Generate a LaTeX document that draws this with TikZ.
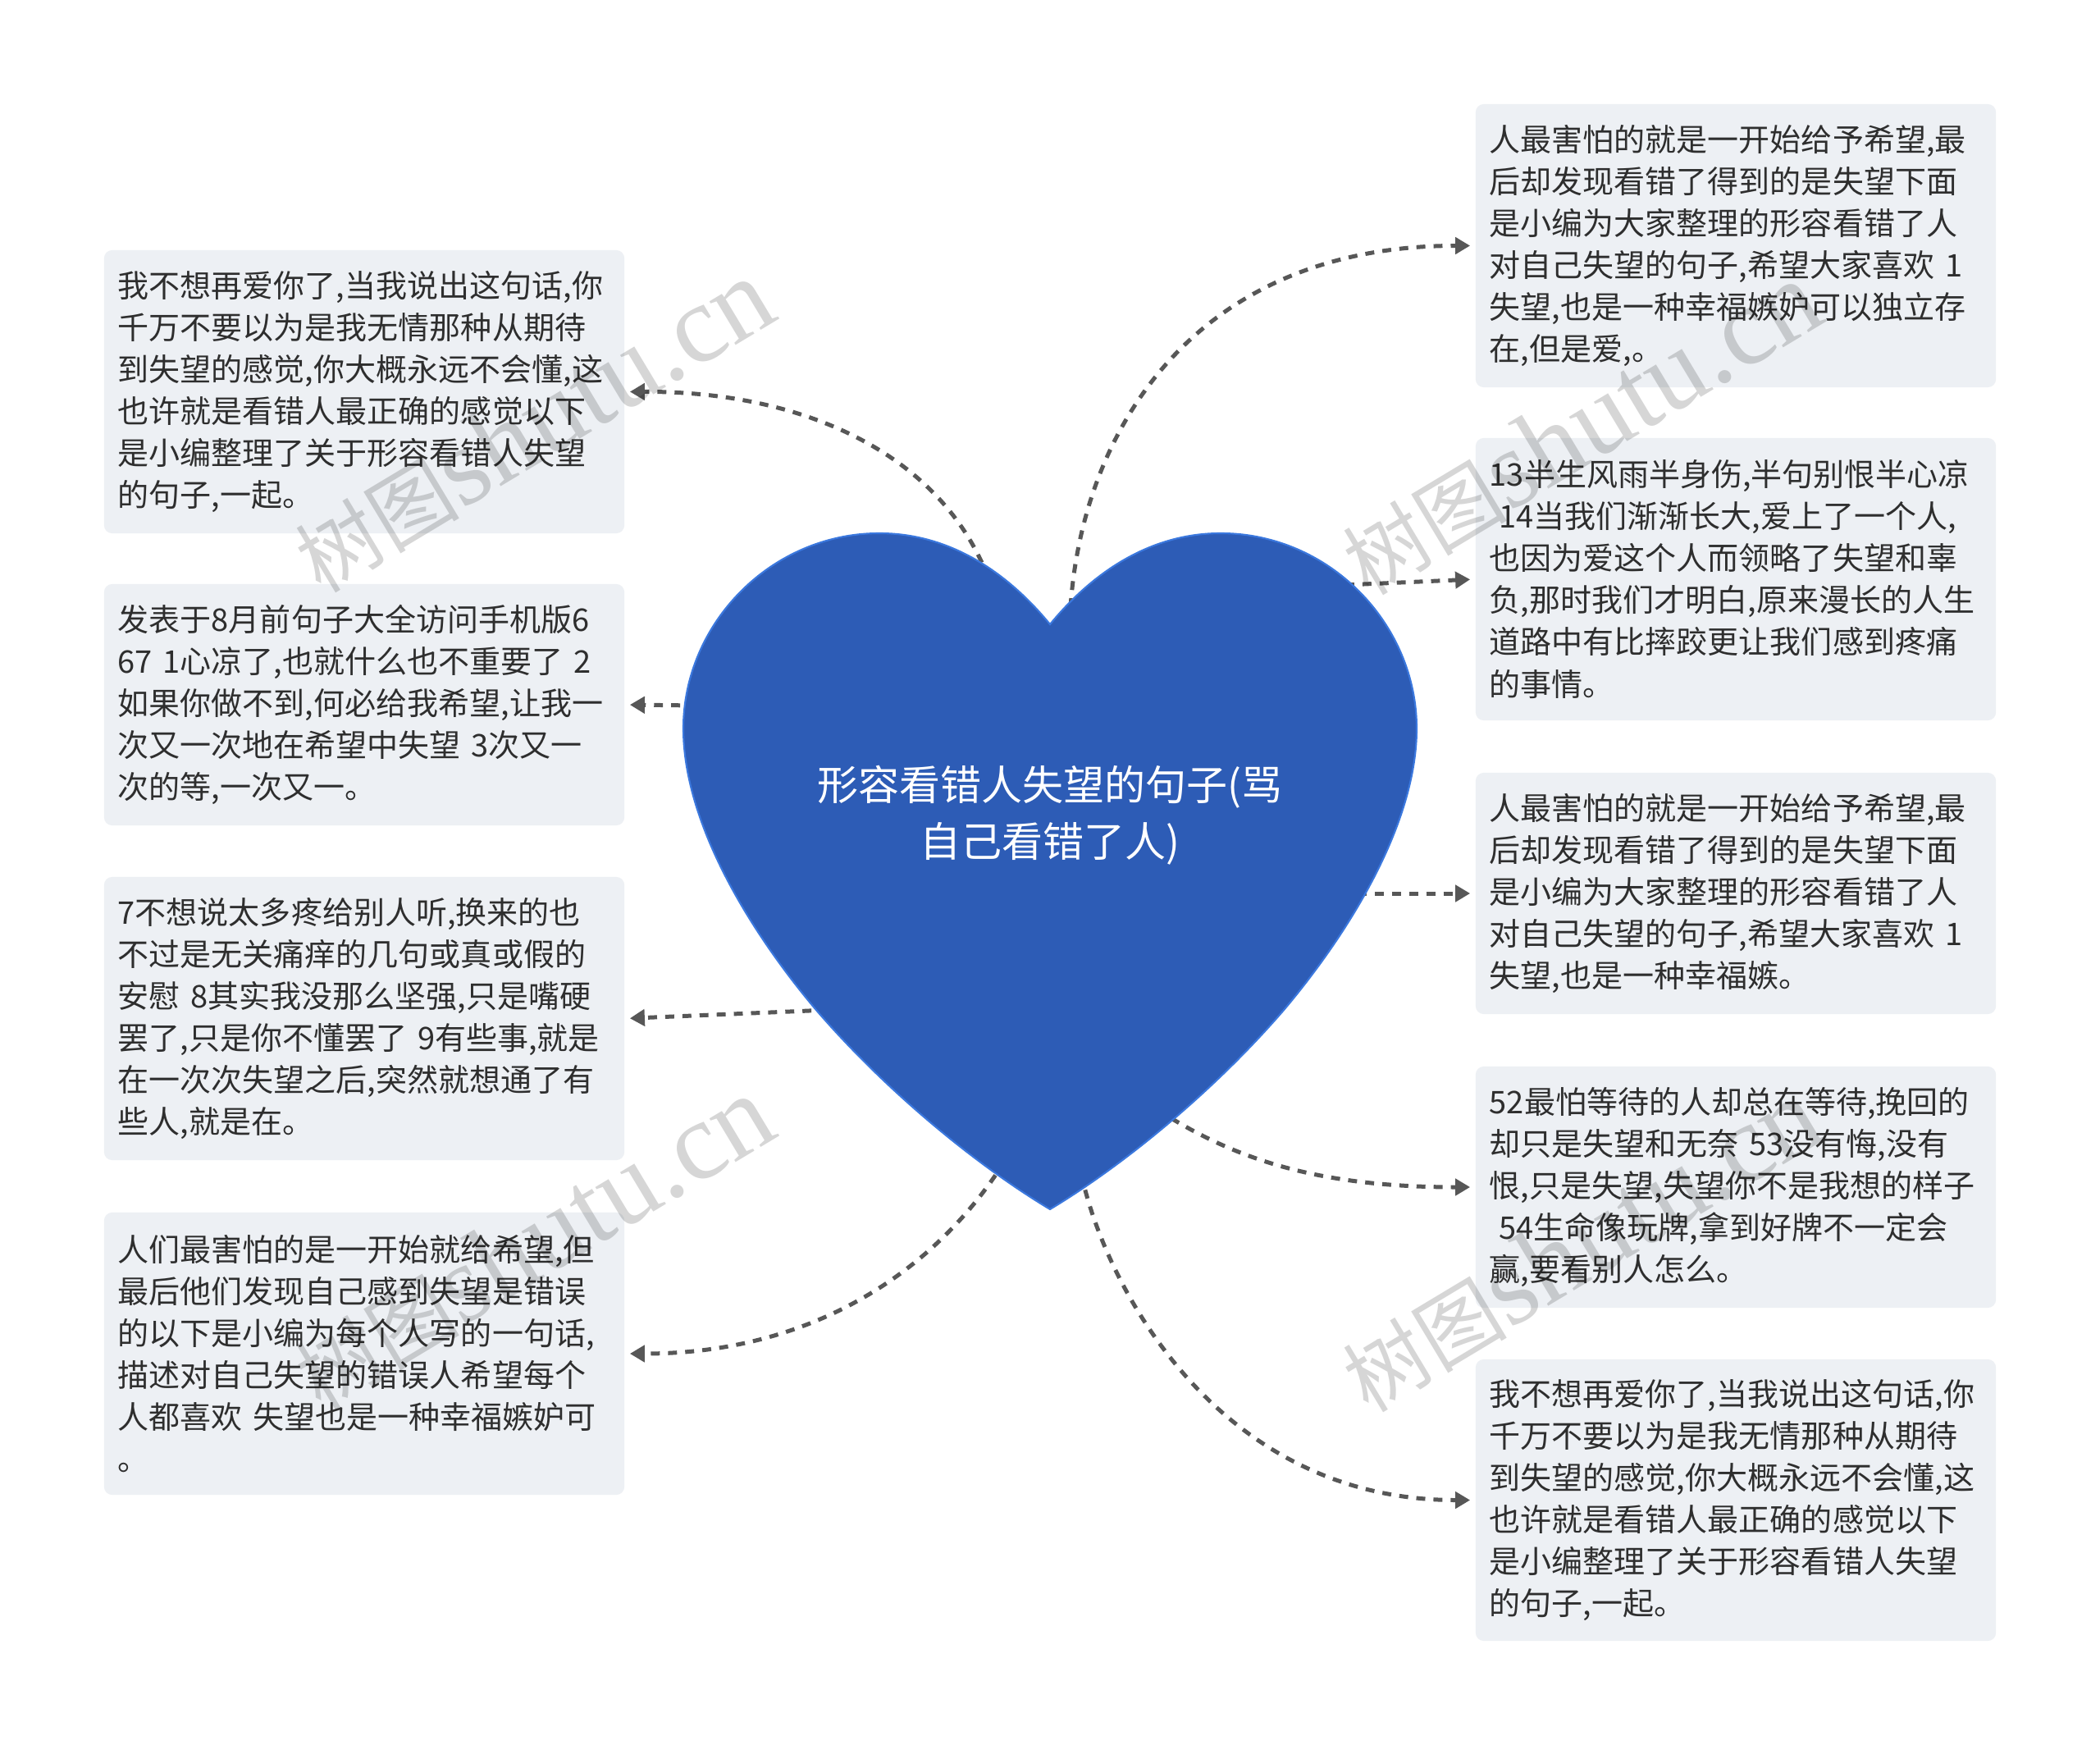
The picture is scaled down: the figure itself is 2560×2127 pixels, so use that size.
\documentclass[tikz,border=0pt]{standalone}
\usepackage{fontspec}
\setmainfont{Noto Sans CJK SC}
\newfontfamily\wmserif{Liberation Serif}
\usetikzlibrary{arrows.meta}
\definecolor{boxfill}{HTML}{EDF0F4}
\definecolor{txt}{HTML}{2E2E2E}
\definecolor{lnk}{HTML}{575757}
\definecolor{heartfill}{HTML}{2D5CB6}
\definecolor{heartline}{HTML}{3B78DE}
\begin{document}
\begin{tikzpicture}[x=0.01cm,y=-0.01cm,
  box/.style={fill=boxfill, rounded corners=0.1cm, text=txt, text width=6cm, align=left,
    inner xsep=0.17cm, inner ysep=0pt, minimum width=6.34cm,
    font=\fontsize{10.81pt}{14.51pt}\selectfont},
  link/.style={draw=lnk, line width=1.42pt, dash pattern=on 3.1pt off 2.85pt,
    -{Triangle[length=0.18cm,width=0.2cm]}, shorten >=0.06cm},
  wm/.style={rotate=31, text=black, opacity=0.16, inner sep=0pt}]
\fill[white] (0,0) rectangle (2560,2127);
\useasboundingbox (0,0) rectangle (2560,2127);

% boxes
\node[box, minimum height=3.45cm] (L1) at (444,477.5) {我不想再爱你了,当我说出这句话,你\\千万不要以为是我无情那种从期待\\到失望的感觉,你大概永远不会懂,这\\也许就是看错人最正确的感觉以下\\是小编整理了关于形容看错人失望\\的句子,一起。};
\node[box, minimum height=2.94cm] (L2) at (444,859) {发表于8月前句子大全访问手机版6\\67 1心凉了,也就什么也不重要了 2\\如果你做不到,何必给我希望,让我一\\次又一次地在希望中失望 3次又一\\次的等,一次又一。};
\node[box, minimum height=3.45cm] (L3) at (444,1241.5) {7不想说太多疼给别人听,换来的也\\不过是无关痛痒的几句或真或假的\\安慰 8其实我没那么坚强,只是嘴硬\\罢了,只是你不懂罢了 9有些事,就是\\在一次次失望之后,突然就想通了有\\些人,就是在。};
\node[box, minimum height=3.44cm] (L4) at (444,1650) {人们最害怕的是一开始就给希望,但\\最后他们发现自己感到失望是错误\\的以下是小编为每个人写的一句话,\\描述对自己失望的错误人希望每个\\人都喜欢 失望也是一种幸福嫉妒可\\。};
\node[box, minimum height=3.45cm] (R1) at (2116,299.5) {人最害怕的就是一开始给予希望,最\\后却发现看错了得到的是失望下面\\是小编为大家整理的形容看错了人\\对自己失望的句子,希望大家喜欢 1\\失望,也是一种幸福嫉妒可以独立存\\在,但是爱,。};
\node[box, minimum height=3.44cm] (R2) at (2116,706) {13半生风雨半身伤,半句别恨半心凉\\\hspace*{0.3em}14当我们渐渐长大,爱上了一个人,\\也因为爱这个人而领略了失望和辜\\负,那时我们才明白,原来漫长的人生\\道路中有比摔跤更让我们感到疼痛\\的事情。};
\node[box, minimum height=2.94cm] (R3) at (2116,1089) {人最害怕的就是一开始给予希望,最\\后却发现看错了得到的是失望下面\\是小编为大家整理的形容看错了人\\对自己失望的句子,希望大家喜欢 1\\失望,也是一种幸福嫉。};
\node[box, minimum height=2.94cm] (R4) at (2116,1447) {52最怕等待的人却总在等待,挽回的\\却只是失望和无奈 53没有悔,没有\\恨,只是失望,失望你不是我想的样子\\\hspace*{0.3em}54生命像玩牌,拿到好牌不一定会\\赢,要看别人怎么。};
\node[box, minimum height=3.43cm] (R5) at (2116,1828.5) {我不想再爱你了,当我说出这句话,你\\千万不要以为是我无情那种从期待\\到失望的感觉,你大概永远不会懂,这\\也许就是看错人最正确的感觉以下\\是小编整理了关于形容看错人失望\\的句子,一起。};

% connector start points (inside the heart)
\coordinate (sL1) at (1205,705);
\coordinate (sL2) at (850,860);
\coordinate (sL3) at (1010,1231);
\coordinate (sL4) at (1225,1415);
\coordinate (sR1) at (1305,740);
\coordinate (sR2) at (1640,713);
\coordinate (sR3) at (1655,1089);
\coordinate (sR4) at (1410,1352);
\coordinate (sR5) at (1318,1430);

\draw[link] (sL1) .. controls (1150,560) and (990,477) .. (L1.east);
\draw[link] (sL2) -- (L2.east);
\draw[link] (sL3) -- (L3.east);
\draw[link] (sL4) .. controls (1140,1550) and (990,1650) .. (L4.east);
\draw[link] (sR1) .. controls (1320,520) and (1460,299.5) .. (R1.west);
\draw[link] (sR2) -- (R2.west);
\draw[link] (sR3) -- (R3.west);
\draw[link] (sR4) .. controls (1500,1410) and (1600,1447) .. (R4.west);
\draw[link] (sR5) .. controls (1345,1560) and (1480,1828.5) .. (R5.west);

% heart
\filldraw[fill=heartfill, draw=heartline, line width=0.6pt]
  (1280,761) .. controls (1330,700) and (1400,650) .. (1488,650)
  .. controls (1620,650) and (1727,760) .. (1727,888)
  .. controls (1727,1000) and (1650,1130) .. (1566,1230)
  .. controls (1480,1330) and (1370,1420) .. (1280,1474)
  .. controls (1190,1420) and (1080,1330) .. (994,1230)
  .. controls (910,1130) and (833,1000) .. (833,888)
  .. controls (833,760) and (940,650) .. (1072,650)
  .. controls (1160,650) and (1230,700) .. (1280,761) -- cycle;
\node[font=\fontsize{14.23pt}{19.63pt}\selectfont, text=white, align=center] (root) at (1280,994) {形容看错人失望的句子(骂\\自己看错了人)};

% watermarks
\node[wm] (wm1) at (650,519) {\fontsize{28.45pt}{30pt}\selectfont 树图\wmserif\fontsize{38.4pt}{40pt}\selectfont shutu.cn};
\node[wm] (wm2) at (1927,522) {\fontsize{28.45pt}{30pt}\selectfont 树图\wmserif\fontsize{38.4pt}{40pt}\selectfont shutu.cn};
\node[wm] (wm3) at (650,1515) {\fontsize{28.45pt}{30pt}\selectfont 树图\wmserif\fontsize{38.4pt}{40pt}\selectfont shutu.cn};
\node[wm] (wm4) at (1927,1518) {\fontsize{28.45pt}{30pt}\selectfont 树图\wmserif\fontsize{38.4pt}{40pt}\selectfont shutu.cn};
\end{tikzpicture}
\end{document}
